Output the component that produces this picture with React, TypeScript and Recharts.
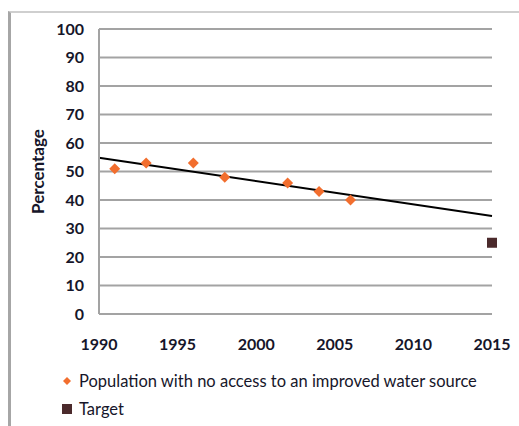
import React from "react";
import {
  ComposedChart, Scatter, Line, XAxis, YAxis, CartesianGrid, Label,
} from "recharts";

// values
const SURVEY_YEARS = [1991, 1993, 1996, 1998, 2002, 2004, 2006];
const NO_ACCESS = [51, 53, 53, 48, 46, 43, 40];
const TARGET_YEARS = [2015];
const TARGET_VALUES = [25];
const TREND_YEARS = [1990, 2015];
const TREND_VALUES = [54.8, 34.4];
const X_TICKS = [1990, 1995, 2000, 2005, 2010, 2015];
const Y_TICKS = [0, 10, 20, 30, 40, 50, 60, 70, 80, 90, 100];

const SERIES_NAMES = ["Population with no access to an improved water source", "Target"];

const ORANGE = "#F26E2E";
const BROWN = "#4B2A2C";
const GRID = "#a3a3a3";
const TEXT = "#16162a";
const FONT = "Lato, 'Open Sans', sans-serif";

const accessData = SURVEY_YEARS.map((year, i) => ({ year, value: NO_ACCESS[i] }));
const targetData = TARGET_YEARS.map((year, i) => ({ year, value: TARGET_VALUES[i] }));
const trendData = TREND_YEARS.map((year, i) => ({ year, value: TREND_VALUES[i] }));

function Diamond(props: any) {
  const { cx, cy } = props;
  const r = 5.5;
  return <path d={`M${cx},${cy - r}L${cx + r},${cy}L${cx},${cy + r}L${cx - r},${cy}Z`} fill={ORANGE} />;
}

function Square(props: any) {
  const { cx, cy } = props;
  const r = 5;
  return <rect x={cx - r} y={cy - r} width={r * 2} height={r * 2} fill={BROWN} />;
}

// legend kept outside the chart so it doesn't eat into the plot area
function LegendBox() {
  const markers = [
    <path key="d" d="M5,1L9,5L5,9L1,5Z" fill={ORANGE} />,
    <rect key="s" x={0} y={0} width={10} height={10} fill={BROWN} />,
  ];
  return (
    <div style={{ position: "absolute", left: 62, top: 367, fontFamily: FONT, fontSize: 16.5, color: TEXT }}>
      {SERIES_NAMES.map((name, i) => (
        <div key={name} style={{ display: "flex", alignItems: "center", height: 28 }}>
          <svg width={10} height={10} style={{ marginRight: 7 }}>{markers[i]}</svg>
          <span>{name}</span>
        </div>
      ))}
    </div>
  );
}

function YTitle(props: any) {
  const { viewBox } = props;
  const cx = 37;
  const cy = viewBox.y + viewBox.height / 2;
  return (
    <text x={cx} y={cy} transform={`rotate(-90 ${cx} ${cy})`} textAnchor="middle" dominantBaseline="central"
      fill={TEXT} fontFamily={FONT} fontSize={17} fontWeight={700}>
      Percentage
    </text>
  );
}

export default function App() {
  return (
    <div style={{ position: "absolute", left: 0, top: 0, width: 519, height: 426, background: "#fff", overflow: "hidden" }}>
      <div style={{ position: "absolute", left: 8, top: 11, right: -10, bottom: -10, borderLeft: "3px solid #a6a6a6", borderTop: "2px solid #cfcfcf" }} />
      <ComposedChart width={519} height={426} margin={{ top: 29, right: 27, bottom: 82, left: 0 }}
        style={{ position: "absolute", left: 0, top: 0 }}>
        <CartesianGrid vertical={false} stroke={GRID} strokeWidth={2} />
        <XAxis type="number" dataKey="year" domain={[1990, 2015]} ticks={X_TICKS} interval={0} height={30}
          axisLine={false} tickLine={false}
          tickMargin={19} tick={{ fill: TEXT, fontSize: 16, fontWeight: 700, fontFamily: FONT }} />
        <YAxis type="number" dataKey="value" domain={[0, 100]} ticks={Y_TICKS} interval={0} width={99} tickLine={false}
          axisLine={{ stroke: GRID, strokeWidth: 2 }} tickMargin={9}
          tick={{ fill: TEXT, fontSize: 16, fontWeight: 700, fontFamily: FONT }}>
          <Label content={<YTitle />} />
        </YAxis>
        <Line data={trendData} dataKey="value" stroke="#000" strokeWidth={2} dot={false} isAnimationActive={false} legendType="none" />
        <Scatter name={SERIES_NAMES[0]} data={accessData} dataKey="value" shape={<Diamond />} isAnimationActive={false} />
        <Scatter name={SERIES_NAMES[1]} data={targetData} dataKey="value" shape={<Square />} isAnimationActive={false} />
      </ComposedChart>
      <LegendBox />
    </div>
  );
}
